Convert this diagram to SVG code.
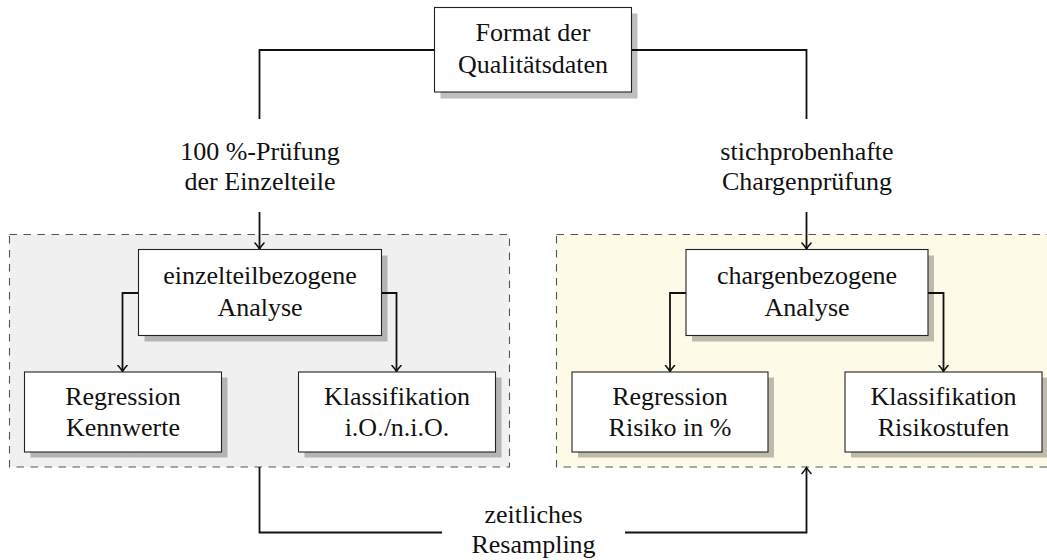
<svg xmlns="http://www.w3.org/2000/svg" width="1047" height="560" viewBox="0 0 1047 560">
  <defs>
    <style>
      .grp { stroke: #555; stroke-width: 1.1; stroke-dasharray: 7.5 6.5; }
      .box { fill: #fff; stroke: #222; stroke-width: 1.1; }
      .shadow { fill: #000; fill-opacity: 0.25; }
      .lbl { font-family: "Liberation Serif", "Times New Roman", serif; font-size: 26px; fill: #111; text-anchor: middle; }
      .conn { fill: none; stroke: #111; stroke-width: 1.8; }
    </style>
    <marker id="arrow" markerUnits="userSpaceOnUse" markerWidth="14" markerHeight="14" viewBox="-7 -7 14 14" refX="0" refY="0" orient="auto">
      <path d="M -6 -4.5 Q -2 -1 0 0 Q -2 1 -6 4.5" fill="none" stroke="#111" stroke-width="1.6" stroke-linecap="round"/>
    </marker>
  </defs>

  <!-- group frames -->
  <g id="group-einzelteil">
    <rect x="9.5" y="234.5" width="500" height="232.5" fill="#f0f0f0" class="grp"/>
  </g>
  <g id="group-charge">
    <rect x="556.5" y="234.5" width="500" height="232.5" fill="#fefae8" class="grp"/>
  </g>

  <!-- connectors -->
  <g id="connectors">
    <path class="conn" d="M 434 50 H 259.5 V 119"/>
    <path class="conn" d="M 631 50 H 806.5 V 119"/>
    <path class="conn" d="M 259.5 212 V 249" marker-end="url(#arrow)"/>
    <path class="conn" d="M 806.5 212 V 249" marker-end="url(#arrow)"/>
    <path class="conn" d="M 138 293 H 122.5 V 371.5" marker-end="url(#arrow)"/>
    <path class="conn" d="M 381 293 H 396.5 V 371.5" marker-end="url(#arrow)"/>
    <path class="conn" d="M 686 293 H 670 V 371.5" marker-end="url(#arrow)"/>
    <path class="conn" d="M 928 293 H 943.5 V 371.5" marker-end="url(#arrow)"/>
    <path class="conn" d="M 259.5 467 V 532.5 H 442"/>
    <path class="conn" d="M 625 532.5 H 806.5 V 467.5" marker-end="url(#arrow)"/>
    <text class="lbl" x="260" y="160">100 %-Prüfung</text>
    <text class="lbl" x="260" y="190">der Einzelteile</text>
    <text class="lbl" x="807" y="160">stichprobenhafte</text>
    <text class="lbl" x="807" y="190">Chargenprüfung</text>
    <text class="lbl" x="533.5" y="523">zeitliches</text>
    <text class="lbl" x="533.5" y="553">Resampling</text>
  </g>

  <!-- nodes -->
  <g id="node-format">
    <rect class="shadow" x="440.5" y="13.5" width="197" height="85"/>
    <rect class="box" x="434.5" y="7.5" width="197" height="84.5"/>
    <text class="lbl" x="533" y="41">Format der</text>
    <text class="lbl" x="533" y="73">Qualitätsdaten</text>
  </g>

  <g id="node-einzelteil">
    <rect class="shadow" x="144.5" y="255.5" width="243" height="86"/>
    <rect class="box" x="138.5" y="249.5" width="243" height="86"/>
    <text class="lbl" x="260" y="284">einzelteilbezogene</text>
    <text class="lbl" x="260" y="316">Analyse</text>
  </g>

  <g id="node-regression-kennwerte">
    <rect class="shadow" x="30.5" y="377.5" width="197" height="80"/>
    <rect class="box" x="24.5" y="372" width="197" height="80"/>
    <text class="lbl" x="123" y="405">Regression</text>
    <text class="lbl" x="123" y="436">Kennwerte</text>
  </g>

  <g id="node-klassifikation-io">
    <rect class="shadow" x="304.5" y="377.5" width="197" height="80"/>
    <rect class="box" x="298.5" y="372" width="197" height="80"/>
    <text class="lbl" x="397" y="405">Klassifikation</text>
    <text class="lbl" x="397" y="436">i.O./n.i.O.</text>
  </g>

  <g id="node-charge">
    <rect class="shadow" x="692" y="255.5" width="242" height="86"/>
    <rect class="box" x="686" y="249.5" width="242" height="86"/>
    <text class="lbl" x="807" y="284">chargenbezogene</text>
    <text class="lbl" x="807" y="316">Analyse</text>
  </g>

  <g id="node-regression-risiko">
    <rect class="shadow" x="578" y="377.5" width="196" height="80"/>
    <rect class="box" x="572" y="372" width="196" height="80"/>
    <text class="lbl" x="670" y="405">Regression</text>
    <text class="lbl" x="670" y="436">Risiko in %</text>
  </g>

  <g id="node-klassifikation-risiko">
    <rect class="shadow" x="851" y="377.5" width="197" height="80"/>
    <rect class="box" x="845" y="372" width="197" height="80"/>
    <text class="lbl" x="943.5" y="405">Klassifikation</text>
    <text class="lbl" x="943.5" y="436">Risikostufen</text>
  </g>
</svg>
